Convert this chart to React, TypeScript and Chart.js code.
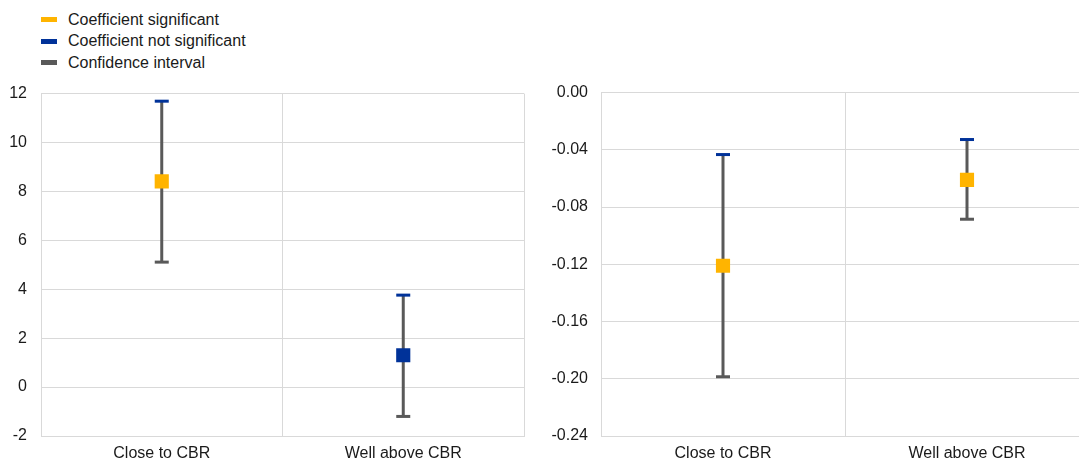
import React, { useEffect, useRef } from "react";
import { Chart, registerables } from "chart.js";

Chart.register(...registerables);

const categories = ["Close to CBR", "Well above CBR"];

const leftCoef = [8.41, 1.3];
const leftLower = [5.11, -1.2];
const leftUpper = [11.69, 3.76];
const leftSignificant = [true, false];
const leftMin = -2;
const leftMax = 12;
const leftStep = 2;

const rightCoef = [-0.121, -0.061];
const rightLower = [-0.1986, -0.0885];
const rightUpper = [-0.0433, -0.0328];
const rightSignificant = [true, true];
const rightMin = -0.24;
const rightMax = 0;
const rightStep = 0.04;

const legendLabels = ["Coefficient significant", "Coefficient not significant", "Confidence interval"];

const YELLOW = "#FFB400";
const BLUE = "#003299";
const GREY = "#595959";
const GRID = "#d9d9d9";
const FONT = "'Liberation Sans', Arial, sans-serif";
const TEXT = "#1a1a1a";
const FONT_SIZE = 16;

const legendColors = [YELLOW, BLUE, GREY];

const errorBarPlugin = {
  id: "errorBars",
  beforeDatasetsDraw(chart: any, _args: any, opts: any) {
    const { ctx, scales } = chart;
    const lower: number[] = opts.lower || [];
    const upper: number[] = opts.upper || [];
    ctx.save();
    for (let i = 0; i < lower.length; i++) {
      const x = scales.x.getPixelForValue(i);
      const yl = scales.y.getPixelForValue(lower[i]);
      const yu = scales.y.getPixelForValue(upper[i]);
      ctx.strokeStyle = GREY;
      ctx.lineWidth = 3;
      ctx.beginPath();
      ctx.moveTo(x, yl);
      ctx.lineTo(x, yu);
      ctx.stroke();
      ctx.fillStyle = GREY;
      ctx.fillRect(x - 7, yl - 1.5, 14, 3);
      ctx.fillStyle = BLUE;
      ctx.fillRect(x - 7, yu - 1.5, 14, 3);
    }
    ctx.restore();
  },
};

function makeConfig(
  coef: number[],
  lower: number[],
  upper: number[],
  sig: boolean[],
  min: number,
  max: number,
  step: number,
  yWidth: number,
  yPad: number,
  decimals: number,
  padRight: number
): any {
  return {
    type: "line",
    data: {
      labels: categories,
      datasets: [
        {
          data: coef,
          showLine: false,
          pointStyle: "rect",
          pointRadius: 10,
          pointHoverRadius: 10,
          pointBorderWidth: 0,
          pointBackgroundColor: sig.map((s) => (s ? YELLOW : BLUE)),
          pointBorderColor: sig.map((s) => (s ? YELLOW : BLUE)),
        },
      ],
    },
    plugins: [errorBarPlugin],
    options: {
      animation: false,
      responsive: false,
      maintainAspectRatio: false,
      layout: { padding: { top: 2, right: padRight, bottom: 0, left: 0 } },
      plugins: {
        legend: { display: false },
        tooltip: { enabled: false },
        errorBars: { lower, upper },
      },
      scales: {
        x: {
          type: "category",
          offset: true,
          grid: { offset: true, color: GRID, drawTicks: false, lineWidth: 1 },
          border: { color: GRID, width: 1 },
          ticks: {
            padding: 8,
            color: TEXT,
            font: { family: FONT, size: FONT_SIZE },
            maxRotation: 0,
          },
          afterFit(scale: any) {
            scale.height = 27;
          },
        },
        y: {
          min,
          max,
          grid: { color: GRID, drawTicks: false, lineWidth: 1 },
          border: { color: GRID, width: 1 },
          ticks: {
            stepSize: step,
            padding: yPad,
            color: TEXT,
            font: { family: FONT, size: FONT_SIZE },
            callback: (v: number) => (Math.abs(v) < 1e-9 ? 0 : v).toFixed(decimals),
          },
          afterFit(scale: any) {
            scale.width = yWidth;
          },
        },
      },
    },
  };
}

export default function App() {
  const leftRef = useRef<HTMLCanvasElement | null>(null);
  const rightRef = useRef<HTMLCanvasElement | null>(null);

  useEffect(() => {
    document.body.style.margin = "0";
    document.body.style.overflow = "hidden";
    const c1 = new Chart(
      leftRef.current as HTMLCanvasElement,
      makeConfig(leftCoef, leftLower, leftUpper, leftSignificant, leftMin, leftMax, leftStep, 41, 14, 0, 16)
    );
    const c2 = new Chart(
      rightRef.current as HTMLCanvasElement,
      makeConfig(rightCoef, rightLower, rightUpper, rightSignificant, rightMin, rightMax, rightStep, 61, 13, 2, 11)
    );
    return () => {
      c1.destroy();
      c2.destroy();
    };
  }, []);

  return (
    <div
      style={{
        position: "relative",
        width: 1079,
        height: 463,
        overflow: "hidden",
        background: "#fff",
        fontFamily: FONT,
      }}
    >
      <div style={{ position: "absolute", left: 41, top: 9 }}>
        {legendLabels.map((label, i) => (
          <div
            key={label}
            style={{ display: "flex", alignItems: "center", height: 21.5, fontSize: FONT_SIZE, color: TEXT, whiteSpace: "nowrap" }}
          >
            <span
              style={{
                display: "inline-block",
                width: 16,
                height: 5,
                background: legendColors[i],
                marginRight: 11,
              }}
            />
            <span>{label}</span>
          </div>
        ))}
      </div>
      <canvas
        ref={leftRef}
        width={540}
        height={393}
        style={{ position: "absolute", left: 0, top: 70, width: 540, height: 393 }}
      />
      <canvas
        ref={rightRef}
        width={560}
        height={393}
        style={{ position: "absolute", left: 540, top: 70, width: 560, height: 393 }}
      />
    </div>
  );
}
